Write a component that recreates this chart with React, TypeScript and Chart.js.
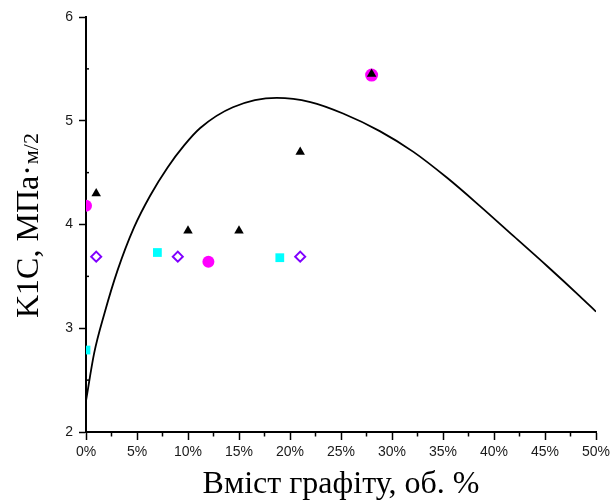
import React, { useEffect, useRef } from "react";
import { Chart, registerables } from "chart.js";

Chart.register(...registerables);

// ---- Data ----
const curveX = [0, 0.8, 1.8, 3.1, 4.7, 6.3, 8, 9.6, 11.2, 14.4, 18.7, 22, 25.2, 28.8, 32.1, 35.4, 38.6, 41.9, 45.2, 48.4, 50];
const curveY = [2.3, 2.76, 3.14, 3.56, 3.97, 4.28, 4.55, 4.76, 4.93, 5.13, 5.22, 5.18, 5.07, 4.9, 4.7, 4.45, 4.18, 3.89, 3.6, 3.31, 3.16];

const triX = [1, 10, 15, 21, 28];
const triY = [4.3, 3.94, 3.94, 4.7, 5.45];

const circX = [0, 12, 28];
const circY = [4.18, 3.64, 5.44];

const sqX = [0, 7, 19];
const sqY = [2.79, 3.73, 3.68];

const diaX = [1, 9, 21];
const diaY = [3.69, 3.69, 3.69];

const xTicksMin = 0;
const xTicksMax = 50;
const yTicksMin = 2;
const yTicksMax = 6;

const X_TITLE = "Вміст графіту, об. %";
const Y_TITLE_MAIN = "K1C, МПа·";
const Y_TITLE_UNIT = "м/2";

const toPts = (xs: number[], ys: number[]) => xs.map((x, i) => ({ x, y: ys[i] }));

const SERIF = '"Liberation Serif", "Times New Roman", "DejaVu Serif", serif';
const SANS = '"Liberation Sans", Arial, "DejaVu Sans", sans-serif';

const decorPlugin = {
  id: "decor",
  afterDraw(chart: any) {
    const ctx = chart.ctx;
    const xs = chart.scales.x;
    const ys = chart.scales.y;
    const area = chart.chartArea;
    ctx.save();
    // minor ticks
    ctx.strokeStyle = "#000";
    ctx.lineWidth = 1.5;
    xs.ticks.forEach((t: any) => {
      if (Math.abs(t.value % 5) > 1e-6) {
        const px = xs.getPixelForValue(t.value);
        ctx.beginPath();
        ctx.moveTo(px, area.bottom);
        ctx.lineTo(px, area.bottom + 4.5);
        ctx.stroke();
      }
    });
    ys.ticks.forEach((t: any) => {
      if (Math.abs(t.value % 1) > 1e-6) {
        const py = ys.getPixelForValue(t.value);
        ctx.beginPath();
        ctx.moveTo(area.left, py);
        ctx.lineTo(area.left + 3, py);
        ctx.stroke();
      }
    });
    // axis titles
    ctx.fillStyle = "#000";
    ctx.font = `32px ${SERIF}`;
    ctx.textAlign = "center";
    ctx.textBaseline = "alphabetic";
    ctx.fillText(X_TITLE, (area.left + area.right) / 2, 493);

    ctx.translate(38, 318);
    ctx.rotate(-Math.PI / 2);
    ctx.textAlign = "left";
    ctx.font = `32px ${SERIF}`;
    ctx.fillText(Y_TITLE_MAIN, 0, 0);
    const w = ctx.measureText(Y_TITLE_MAIN).width;
    ctx.font = `22px ${SERIF}`;
    ctx.fillText(Y_TITLE_UNIT, w + 1, 0);
    ctx.restore();
  },
};

export default function App() {
  const ref = useRef<HTMLCanvasElement | null>(null);

  useEffect(() => {
    if (!ref.current) return;
    const chart = new Chart(ref.current, {
      type: "scatter",
      data: {
        datasets: [
          {
            label: "triangles",
            data: toPts(triX, triY),
            pointStyle: "triangle",
            pointRadius: 5.5,
            backgroundColor: "#000",
            borderColor: "#000",
            borderWidth: 0,
            showLine: false,
            clip: 0,
          },
          {
            label: "circles",
            data: toPts(circX, circY),
            pointStyle: "circle",
            pointRadius: [6, 6, 6.5],
            backgroundColor: "#ff00ff",
            borderColor: "#ff00ff",
            borderWidth: 0,
            showLine: false,
            clip: 0,
          },
          {
            label: "squares",
            data: toPts(sqX, sqY),
            pointStyle: "rect",
            pointRadius: 6.2,
            backgroundColor: "#00ffff",
            borderColor: "#00ffff",
            borderWidth: 0,
            showLine: false,
            clip: 0,
          },
          {
            label: "diamonds",
            data: toPts(diaX, diaY),
            pointStyle: "rectRot",
            pointRadius: 5,
            backgroundColor: "rgba(255,255,255,0)",
            borderColor: "#8000ff",
            borderWidth: 2,
            showLine: false,
            clip: 0,
          },
          {
            label: "fit",
            type: "line",
            data: toPts(curveX, curveY),
            borderColor: "#000",
            borderWidth: 1.8,
            pointRadius: 0,
            showLine: true,
            fill: false,
            cubicInterpolationMode: "monotone",
            clip: 0,
          } as any,
        ],
      },
      options: {
        animation: false,
        responsive: false,
        maintainAspectRatio: false,
        layout: { padding: { top: 17, right: 15, left: 0, bottom: 0 } },
        plugins: {
          legend: { display: false },
          tooltip: { enabled: false },
          title: { display: false },
        },
        scales: {
          x: {
            type: "linear",
            min: xTicksMin,
            max: xTicksMax,
            afterFit: (s: any) => {
              s.height = 70;
              s.paddingLeft = 0;
              s.paddingRight = 0;
            },
            border: { display: true, color: "#000", width: 2 },
            grid: {
              display: true,
              drawOnChartArea: false,
              drawTicks: true,
              tickLength: 8,
              tickWidth: 1.5,
              tickColor: (c: any) =>
                c.tick && Math.abs(c.tick.value % 5) < 1e-6 ? "#000" : "rgba(0,0,0,0)",
            },
            ticks: {
              stepSize: 2.5,
              autoSkip: false,
              maxRotation: 0,
              padding: 4,
              color: "#1a1a1a",
              font: { family: SANS, size: 14 },
              callback: (v: any) => (Math.abs(Number(v) % 5) < 1e-6 ? `${v}%` : ""),
            },
          },
          y: {
            type: "linear",
            min: yTicksMin,
            max: yTicksMax,
            afterFit: (s: any) => {
              s.width = 86;
              s.paddingTop = 0;
              s.paddingBottom = 0;
            },
            border: { display: true, color: "#000", width: 2 },
            grid: {
              display: true,
              drawOnChartArea: false,
              drawTicks: true,
              tickLength: 7,
              tickWidth: 1.5,
              tickColor: (c: any) =>
                c.tick && Math.abs(c.tick.value % 1) < 1e-6 ? "#000" : "rgba(0,0,0,0)",
            },
            ticks: {
              stepSize: 0.5,
              autoSkip: false,
              padding: 6,
              color: "#1a1a1a",
              font: { family: SANS, size: 14 },
              callback: (v: any) => (Math.abs(Number(v) % 1) < 1e-6 ? `${v}` : ""),
            },
          },
        },
      },
      plugins: [decorPlugin],
    } as any);
    return () => chart.destroy();
  }, []);

  return (
    <div style={{ position: "fixed", left: 0, top: 0, width: 611, height: 502, background: "#fff" }}>
      <canvas ref={ref} width={611} height={502} style={{ display: "block" }} />
    </div>
  );
}
